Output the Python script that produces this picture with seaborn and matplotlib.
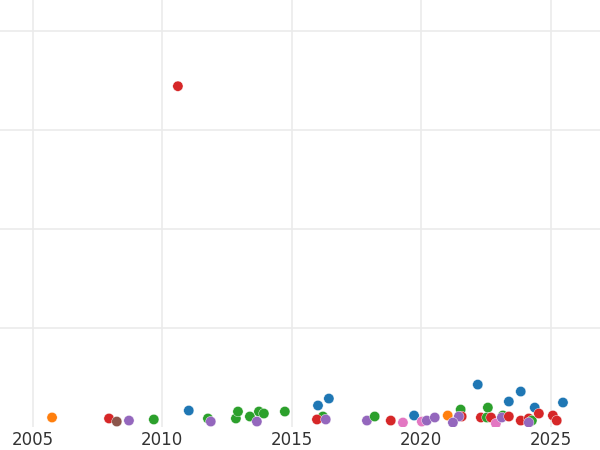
import matplotlib
matplotlib.use("Agg")
import matplotlib.pyplot as plt
import pandas as pd
import seaborn as sns

# values
years = [
    2005.75, 2007.95, 2008.25, 2008.72, 2009.68, 2011.03, 2010.61, 2011.77,
    2011.88, 2012.85, 2012.93, 2013.39, 2013.74, 2013.93, 2013.66, 2014.74,
    2016.02, 2016.44, 2016.21, 2015.98, 2016.32, 2017.91, 2018.21, 2018.83,
    2019.30, 2019.73, 2020.03, 2020.22, 2020.53, 2021.03, 2021.53, 2021.57,
    2021.46, 2021.23, 2022.19, 2022.31, 2022.58, 2022.54, 2022.70, 2022.89,
    2023.16, 2023.12, 2023.39, 2023.39, 2023.85, 2023.85, 2024.16, 2024.28,
    2024.16, 2024.39, 2024.55, 2025.09, 2025.24, 2025.48,
]
values = [
    9.6, 8.6, 5.5, 6.5, 7.6, 16.6, 344, 8.6,
    5.5, 8.6, 15.6, 10.6, 15.6, 13.6, 5.5, 15.6,
    21.7, 28.7, 10.6, 7.6, 7.6, 6.5, 10.6, 6.5,
    4.5, 11.6, 5.5, 6.5, 9.6, 11.6, 17.6, 10.6,
    10.6, 4.5, 42.8, 9.6, 19.6, 9.6, 9.6, 3.5,
    11.6, 9.6, 10.6, 25.7, 35.8, 6.5, 8.6, 6.5,
    4.5, 19.6, 13.6, 11.6, 6.5, 24.7,
]
groups = [
    "B", "D", "F", "E", "C", "A", "D", "C",
    "E", "C", "C", "C", "C", "C", "E", "C",
    "A", "A", "C", "D", "E", "E", "C", "D",
    "G", "A", "G", "E", "E", "B", "C", "D",
    "E", "E", "A", "D", "C", "C", "D", "G",
    "C", "E", "D", "A", "A", "D", "D", "C",
    "E", "A", "D", "D", "D", "A",
]
group_order = ["A", "B", "C", "D", "E", "F", "G"]
x_ticks = [2005, 2010, 2015, 2020, 2025]
y_ticks = [100, 200, 300, 400]

df = pd.DataFrame({"year": years, "value": values, "group": groups})

sns.set_theme(style="whitegrid")
fig = plt.figure(figsize=(6, 4.5), dpi=100)
ax = fig.add_axes([0, 23 / 450, 1, 1 - 23 / 450])

sns.scatterplot(
    data=df, x="year", y="value", hue="group", hue_order=group_order,
    palette="tab10", s=55, linewidth=0.3, legend=False, ax=ax,
)

ax.set_xlim(2003.74, 2026.91)
ax.set_ylim(0, 431)
ax.set_xticks(x_ticks)
ax.set_yticks(y_ticks)
ax.set_yticklabels([])
ax.set_xlabel("")
ax.set_ylabel("")
ax.grid(color="#ebebeb", linewidth=1.2)
ax.tick_params(axis="x", length=0, pad=3, labelsize=12, labelcolor="#333333")
ax.tick_params(axis="y", length=0)
for sp in ax.spines.values():
    sp.set_visible(False)

fig.savefig("out.png", dpi=100)
